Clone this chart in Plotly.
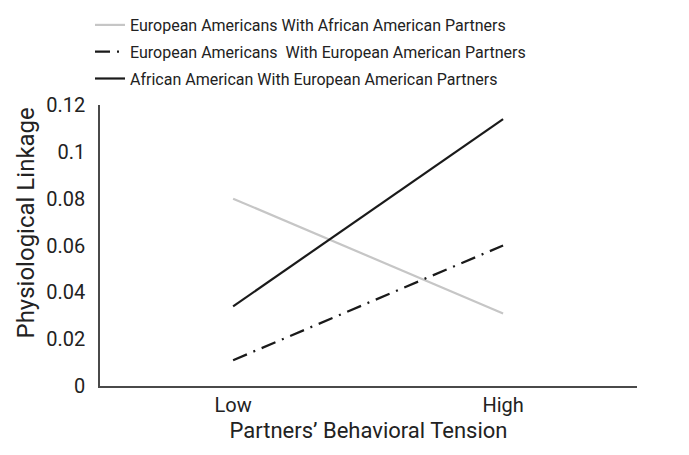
import plotly.graph_objects as go

categories = ["Low", "High"]
ea_with_aa = [0.080, 0.031]
ea_with_ea = [0.011, 0.060]
aa_with_ea = [0.034, 0.114]
y_ticks = [0, 0.02, 0.04, 0.06, 0.08, 0.1, 0.12]
y_tick_labels = ["0", "0.02", "0.04", "0.06", "0.08", "0.1", "0.12"]

FONT = "Roboto, Liberation Sans, sans-serif"
TXT = "#222222"
xs = [0, 1]

W, H = 689, 455
OFF = 8  # page body margin offset
PW, PH = 537, 281
L, T = 100 - OFF, 105 - OFF
R, B = W - L - PW, H - T - PH

fig = go.Figure()
fig.add_trace(go.Scatter(x=xs, y=ea_with_aa, mode="lines", legendgroup="g1",
                         name="European Americans With African American Partners",
                         line=dict(color="#c6c6c6", width=2.2)))
fig.add_trace(go.Scatter(x=xs, y=ea_with_ea, mode="lines", legendgroup="g2",
                         name="European Americans  With European American Partners",
                         line=dict(color="#1a1a1a", width=2.2, dash="15px,7px,2px,7px")))
fig.add_trace(go.Scatter(x=xs, y=aa_with_ea, mode="lines", legendgroup="g3",
                         name="African American With European American Partners",
                         line=dict(color="#1a1a1a", width=2.2)))

# y-axis title placed as a rotated annotation (it sits above the axis centre)
fig.add_annotation(text="Physiological Linkage", textangle=-90,
                   xref="paper", yref="paper",
                   x=(25 - OFF - L) / PW, y=(T + PH - (223.5 - OFF)) / PH,
                   xanchor="center", yanchor="middle", showarrow=False,
                   font=dict(family=FONT, size=24, color=TXT))

fig.update_layout(
    width=W, height=H,
    margin=dict(l=L, r=R, t=T, b=B, autoexpand=False),
    plot_bgcolor="white", paper_bgcolor="white",
    font=dict(family=FONT, size=20, color=TXT),
    showlegend=True,
    legend=dict(xref="container", yref="container",
                x=(90 - OFF) / W, y=1 - (-14 - OFF) / H, xanchor="left", yanchor="top",
                font=dict(family=FONT, size=16, color=TXT),
                bgcolor="rgba(0,0,0,0)", tracegroupgap=3, itemwidth=30,
                traceorder="grouped"),
    xaxis=dict(range=[-0.493, 1.496], tickvals=xs, ticktext=categories,
               showgrid=False, zeroline=False, showline=True, automargin=False,
               linecolor="#4a4a4a", linewidth=1.6, ticks="",
               ticklabelstandoff=0,
               title=dict(text="Partners’ Behavioral Tension", standoff=7,
                          font=dict(size=22)),
               tickfont=dict(size=20)),
    yaxis=dict(range=[0, 0.12], tickvals=y_ticks, ticktext=y_tick_labels,
               showgrid=False, zeroline=False, showline=True, automargin=False,
               linecolor="#4a4a4a", linewidth=1.6, ticks="",
               ticklabelstandoff=9,
               tickfont=dict(size=20)),
)

fig.write_html("out.html")
